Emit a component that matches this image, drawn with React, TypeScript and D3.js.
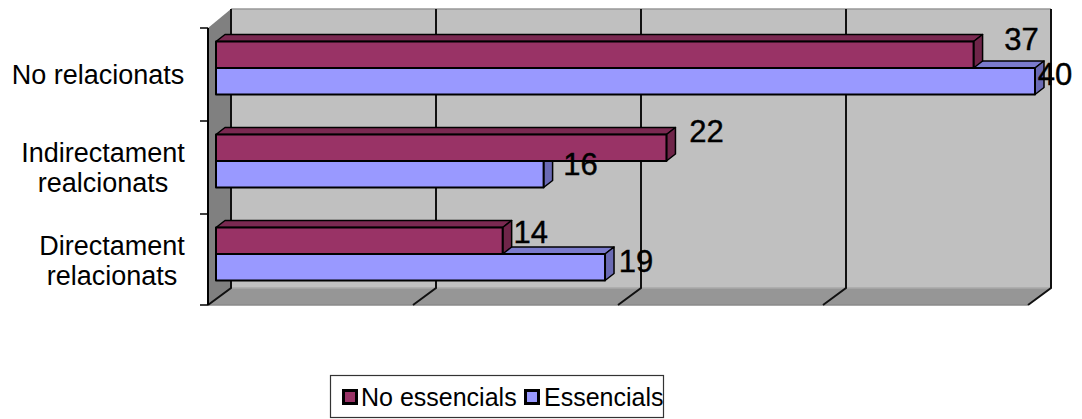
import * as d3 from "d3";

const categories = ["No relacionats", "Indirectament realcionats", "Directament relacionats"];
const categoryLines = [["No relacionats"], ["Indirectament", "realcionats"], ["Directament", "relacionats"]];
const seriesNames = ["No essencials", "Essencials"];
const noEssencials = [37, 22, 14];
const essencials = [40, 16, 19];
const xTicks = [0, 10, 20, 30, 40];

const FONT = "'Liberation Sans', Arial, sans-serif";
const DX = 9;
const DY = -7;
const WALL_DX = 23;
const WALL_DY = -17;

const colors = {
  "No essencials": { front: "#993366", top: "#7a2951", side: "#6f2549" },
  Essencials: { front: "#9999ff", top: "#7a7acc", side: "#6a6ab4" },
};

// labels were dragged around by hand in the original, so nudge each one
const labelNudge: Record<string, number[][]> = {
  "No essencials": [[48, -28], [40, -29], [28, -21]],
  Essencials: [[20, -19], [37, -22], [31, -18]],
};

const x = d3.scaleLinear().domain([0, 40]).range([216, 1035]);
const xFront = d3.scaleLinear().domain([0, 40]).range([208, 1028]);
const y = d3.scaleBand().domain(categories).range([21.5, 300.5]).padding(0);
const ySeries = d3
  .scaleBand()
  .domain(seriesNames)
  .range([0, 53])
  .padding(0);
const bandOffset = (y.bandwidth() - 53) / 2;

const floorY = 305;
const wallTop = 26;

const poly = (pts: number[][]) => pts.map((p) => p.join(",")).join(" ");

function Bar({ cat, name, value }: { cat: string; name: string; value: number }) {
  const c = colors[name as keyof typeof colors];
  const x0 = x(0);
  const x1 = x(value);
  const y0 = (y(cat) as number) + bandOffset + (ySeries(name) as number);
  const h = ySeries.bandwidth();
  return (
    <g stroke="#000" strokeLinejoin="round">
      <polygon
        points={poly([[x0, y0], [x0 + DX, y0 + DY], [x1 + DX, y0 + DY], [x1, y0]])}
        fill={c.top}
        strokeWidth={1.5}
      />
      <polygon
        points={poly([[x1, y0], [x1 + DX, y0 + DY], [x1 + DX, y0 + h + DY], [x1, y0 + h]])}
        fill={c.side}
        strokeWidth={1.5}
      />
      <rect x={x0} y={y0} width={x1 - x0} height={h} fill={c.front} strokeWidth={2} />
    </g>
  );
}

function BarLabel({ cat, name, value, i }: { cat: string; name: string; value: number; i: number }) {
  const [nx, ny] = labelNudge[name][i];
  const y0 = (y(cat) as number) + bandOffset + (ySeries(name) as number);
  return (
    <text
      x={x(value) + nx}
      y={y0 + ny + 36}
      textAnchor="middle"
      fontSize={31}
      fontFamily={FONT}
      fill="#000"
      stroke="#000"
      strokeWidth={0.4}
    >
      {value}
    </text>
  );
}

export default function App() {
  const backLeft = xFront(0) + WALL_DX;
  const backRight = xFront(40) + WALL_DX;
  const backTop = wallTop + WALL_DY;
  const backBottom = floorY + WALL_DY;
  const tickYs = [...categories.map((c) => y(c) as number + 6.5), floorY];

  return (
    <svg
      width={1082}
      height={419}
      style={{ position: "absolute", left: 0, top: 0, background: "#fff" }}
    >
      {/* walls and floor */}
      <rect x={backLeft} y={backTop} width={backRight - backLeft} height={backBottom - backTop} fill="#c0c0c0" />
      <line x1={backLeft} x2={backRight} y1={backTop} y2={backTop} stroke="#999" strokeWidth={1.5} />
      <polygon
        points={poly([[xFront(0), wallTop + 2], [backLeft, backTop], [backLeft, backBottom], [xFront(0), floorY]])}
        fill="#808080"
      />
      <polygon
        points={poly([[xFront(0), floorY], [backLeft, backBottom], [backRight, backBottom], [xFront(40), floorY]])}
        fill="#969696"
      />
      <line x1={backLeft} x2={backRight} y1={backBottom} y2={backBottom} stroke="#a8a8a8" strokeWidth={1.5} />
      <line x1={xFront(0)} x2={xFront(40)} y1={floorY} y2={floorY} stroke="#8a8a8a" strokeWidth={1.5} />

      {/* grid */}
      {xTicks.map((t) => (
        <path
          key={t}
          d={`M${xFront(t)},${floorY}L${xFront(t) + WALL_DX},${backBottom}V${backTop}`}
          fill="none"
          stroke="#111"
          strokeWidth={2}
        />
      ))}

      {/* y axis */}
      <path d={`M${xFront(0)},${wallTop + 2}V${floorY}`} stroke="#000" strokeWidth={2} fill="none" />
      {tickYs.map((ty, i) => (
        <line key={i} x1={xFront(0) - 8} x2={xFront(0)} y1={ty} y2={ty} stroke="#000" strokeWidth={1.5} />
      ))}

      {/* bars, the blue ones first so the maroon sits over them */}
      {categories.map((cat, i) => (
        <g key={cat}>
          <Bar cat={cat} name="Essencials" value={essencials[i]} />
          <Bar cat={cat} name="No essencials" value={noEssencials[i]} />
        </g>
      ))}
      {categories.map((cat, i) => (
        <g key={cat}>
          <BarLabel cat={cat} name="No essencials" value={noEssencials[i]} i={i} />
          <BarLabel cat={cat} name="Essencials" value={essencials[i]} i={i} />
        </g>
      ))}

      {/* category labels */}
      {categories.map((cat, i) => {
        const lines = categoryLines[i];
        const cy = (y(cat) as number) + y.bandwidth() / 2;
        const cx = i === 0 ? 98 : i === 1 ? 103 : 112;
        return (
          <text key={cat} textAnchor="middle" fontSize={27} fontFamily={FONT} fill="#000">
            {lines.map((l, j) => (
              <tspan key={l} x={cx} y={cy + 16 + (j - (lines.length - 1) / 2) * 30}>
                {l}
              </tspan>
            ))}
          </text>
        );
      })}

      {/* legend */}
      <rect x={330.5} y={375.5} width={333} height={42} fill="#fff" stroke="#333" strokeWidth={1.2} />
      {seriesNames.map((name, i) => {
        const sx = i === 0 ? 343.5 : 525.5;
        return (
          <g key={name}>
            <rect
              x={sx}
              y={390.5}
              width={13}
              height={13}
              fill={colors[name as keyof typeof colors].front}
              stroke="#000"
              strokeWidth={3}
            />
            <text x={i === 0 ? 361 : 544} y={406} fontSize={25} fontFamily={FONT} fill="#000">
              {name}
            </text>
          </g>
        );
      })}
    </svg>
  );
}
